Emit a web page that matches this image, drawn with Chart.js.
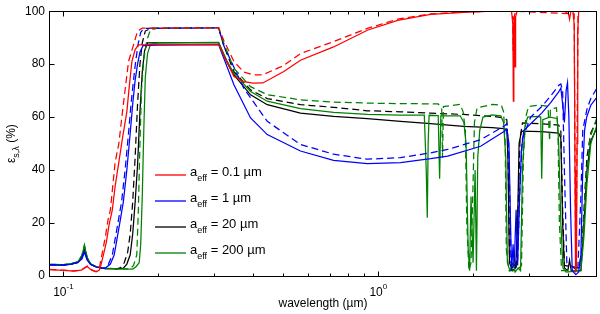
<!DOCTYPE html>
<html>
<head>
<meta charset="utf-8">
<script src="https://cdn.jsdelivr.net/npm/chart.js@4.4.0/dist/chart.umd.min.js"></script>
<style>
  body { margin: 0; background: #fff; }
  canvas { display: block; }
</style>
</head>
<body>
<canvas id="epsChart" width="600" height="314"></canvas>
<script>
// emissivity (%) vs wavelength (um)
const redSolidWl = [0.0903, 0.1, 0.108, 0.114, 0.119, 0.123, 0.127, 0.130, 0.1315, 0.134, 0.137, 0.1395, 0.143, 0.146, 0.150, 0.154, 0.159, 0.162, 0.165, 0.169, 0.173, 0.20, 0.311, 0.33, 0.348, 0.374, 0.40, 0.43, 0.501, 0.566, 0.721, 0.923, 1.152, 1.466, 1.867, 2.3, 2.65, 2.675, 2.685, 2.695, 2.71, 2.72, 2.73, 2.76, 3.9, 4.02, 4.05, 4.09, 4.15, 4.19, 4.215, 4.23, 4.26, 4.28, 4.3, 4.33, 4.95];
const redSolidEps = [2.4, 2.1, 1.8, 2.2, 3.6, 2.2, 1.6, 2.2, 4, 8, 13, 19, 25, 34, 43, 52, 62, 72, 81, 85.5, 87.3, 87.4, 87.5, 81, 75.3, 73.4, 72.8, 72.9, 77.2, 81.5, 86.5, 92.8, 96.5, 98.8, 99.6, 100, 100, 95, 66, 95, 98, 79, 98, 100, 100, 99, 97, 100, 100, 95, 40, 2, 3, 50, 92, 100, 100];

const redDashWl = [0.0903, 0.1, 0.108, 0.114, 0.119, 0.123, 0.127, 0.1295, 0.1305, 0.133, 0.136, 0.1385, 0.141, 0.146, 0.150, 0.154, 0.161, 0.167, 0.172, 0.178, 0.25, 0.311, 0.323, 0.348, 0.374, 0.40, 0.43, 0.501, 0.566, 0.721, 0.923, 1.152, 1.466, 1.867, 2.3, 2.67, 2.68, 2.69, 2.73, 4.19, 4.22, 4.24, 4.27, 4.31, 4.95];
const redDashEps = [2.5, 2.2, 1.9, 2.3, 3.8, 2.3, 1.7, 2.2, 4, 9, 15, 21, 25, 43, 50, 62, 81, 87.3, 92.5, 93.6, 93.7, 93.7, 89, 81, 77, 76, 76, 79.5, 84, 88.5, 93.5, 97, 99, 99.7, 100, 100, 85, 97, 100, 99, 30, 2, 40, 100, 100];

const blueSolidWl = [0.0903, 0.1, 0.106, 0.111, 0.1145, 0.1166, 0.119, 0.122, 0.127, 0.132, 0.136, 0.141, 0.145, 0.148, 0.151, 0.155, 0.159, 0.163, 0.166, 0.169, 0.172, 0.175, 0.179, 0.2, 0.311, 0.348, 0.393, 0.444, 0.566, 0.721, 0.923, 1.177, 1.466, 1.661, 2.114, 2.5, 2.56, 2.6, 2.63, 2.65, 2.68, 2.7, 2.74, 2.77, 2.81, 2.85, 2.9, 3.048, 3.304, 3.528, 3.74, 3.8, 3.85, 3.9, 3.95, 3.99, 4.03, 4.08, 4.13, 4.24, 4.33, 4.4, 4.46, 4.52, 4.59, 4.73, 4.95];
const blueSolidEps = [4.2, 4.1, 4.5, 5.0, 6.5, 9.0, 6.0, 4.3, 3.4, 3.1, 3.0, 4.5, 8, 14, 20, 28, 40, 54, 65, 74, 80, 84.5, 87, 87.2, 87.4, 72.2, 59.7, 53.4, 47.2, 43.7, 42.4, 42.8, 44.3, 45.3, 49, 54.5, 55.5, 50, 20, 2, 12, 3, 25, 4, 30, 48, 55, 57.5, 61.5, 65.5, 69.5, 71, 65, 58, 70, 73, 60, 25, 2, 0.5, 1.5, 8, 40, 55, 60, 64.5, 67.5];

const blueDashWl = [0.0903, 0.1, 0.106, 0.111, 0.1145, 0.1166, 0.119, 0.122, 0.127, 0.132, 0.136, 0.139, 0.143, 0.146, 0.149, 0.153, 0.157, 0.161, 0.164, 0.167, 0.170, 0.173, 0.176, 0.18, 0.311, 0.323, 0.374, 0.444, 0.566, 0.721, 0.923, 1.177, 1.466, 1.661, 2.114, 2.5, 2.56, 2.6, 2.64, 2.7, 2.77, 2.82, 2.87, 3.048, 3.304, 3.528, 3.74, 3.8, 3.85, 3.9, 3.97, 4.3, 4.4, 4.46, 4.6, 4.73, 4.95];
const blueDashEps = [4.3, 4.2, 4.6, 5.1, 6.8, 9.5, 6.2, 4.4, 3.5, 3.1, 3.0, 4.5, 8, 14, 20, 28, 40, 54, 65, 74, 82, 88, 92, 93.5, 93.7, 87, 70.9, 58.4, 49.7, 46, 44.1, 44.7, 46.5, 47.8, 51.5, 56.5, 57.5, 45, 5, 4, 6, 35, 52, 60, 64, 68, 72, 72.5, 70, 40, 5, 2, 30, 55, 63, 67, 71];

const blackSolidWl = [0.0903, 0.1, 0.106, 0.111, 0.1145, 0.1166, 0.119, 0.122, 0.127, 0.132, 0.136, 0.150, 0.155, 0.159, 0.163, 0.166, 0.169, 0.172, 0.175, 0.178, 0.181, 0.185, 0.25, 0.311, 0.33, 0.348, 0.393, 0.444, 0.566, 0.721, 0.923, 1.177, 1.466, 1.867, 2.3, 2.5, 2.56, 2.58, 2.61, 2.67, 2.73, 2.77, 2.8, 2.85, 3.3, 3.74, 3.8, 3.85, 3.9, 4.0, 4.05, 4.1, 4.4, 4.5, 4.6, 4.73, 4.95];
const blackSolidEps = [4.2, 4.1, 4.5, 5.1, 7.0, 10.5, 6.5, 4.4, 3.4, 3.0, 2.8, 2.7, 3.0, 4.5, 8, 16, 28, 42, 62, 77, 85, 88, 88.1, 88.1, 81, 75.9, 68.4, 64.7, 61.5, 60.3, 59.4, 58.4, 57.5, 56.5, 56, 55.7, 55.3, 45, 5, 2, 3, 20, 50, 54.7, 54.5, 54, 52, 20, 3, 2, 6, 2, 2, 20, 40, 51, 56];

const blackDashWl = [0.0903, 0.1, 0.106, 0.111, 0.1145, 0.1166, 0.119, 0.122, 0.127, 0.132, 0.136, 0.148, 0.152, 0.156, 0.16, 0.163, 0.166, 0.169, 0.172, 0.175, 0.178, 0.182, 0.19, 0.311, 0.323, 0.348, 0.393, 0.444, 0.566, 0.721, 0.923, 1.177, 1.466, 1.867, 2.3, 2.5, 2.56, 2.58, 2.61, 2.67, 2.74, 2.78, 2.82, 2.87, 3.3, 3.74, 3.8, 3.85, 3.9, 4.4, 4.5, 4.6, 4.73, 4.95];
const blackDashEps = [4.3, 4.2, 4.6, 5.2, 7.2, 10.8, 6.6, 4.5, 3.5, 3.0, 2.8, 2.7, 3.2, 5, 9, 16, 28, 45, 65, 80, 88, 92.5, 93.6, 93.7, 87, 77.2, 70.3, 67, 64.7, 63.7, 62.4, 62, 61.5, 61, 60.3, 59.7, 59, 50, 8, 3, 3, 25, 52, 57.8, 57.5, 57, 55, 25, 4, 3, 25, 45, 54, 59];

const greenSolidWl = [0.0903, 0.1, 0.106, 0.111, 0.1145, 0.1166, 0.119, 0.122, 0.127, 0.132, 0.15, 0.166, 0.17, 0.174, 0.176, 0.178, 0.18, 0.182, 0.185, 0.189, 0.2, 0.311, 0.33, 0.348, 0.393, 0.444, 0.566, 0.721, 0.923, 1.177, 1.4, 1.42, 1.431, 1.44, 1.45, 1.55, 1.566, 1.58, 1.82, 1.87, 1.9, 1.93, 1.95, 1.97, 2.0, 2.03, 2.05, 2.07, 2.1, 2.15, 2.3, 2.45, 2.5, 2.54, 2.57, 2.62, 2.68, 2.72, 2.78, 2.83, 2.87, 2.92, 2.98, 3.2, 3.28, 3.304, 3.33, 3.5, 3.7, 3.74, 3.8, 3.86, 3.95, 4.4, 4.5, 4.6, 4.73, 4.95];
const greenSolidEps = [4.4, 4.3, 4.7, 5.3, 7.8, 11.5, 7.0, 4.6, 3.5, 3.0, 2.7, 2.6, 3.5, 5, 12, 30, 55, 75, 84, 87.5, 88, 88.2, 81.5, 76.5, 69.7, 66, 63.2, 61.8, 61, 60.8, 60.8, 40, 22, 50, 60.7, 60.6, 36.7, 60.5, 60.5, 58, 50, 10, 2, 30, 5, 40, 2, 45, 55, 60, 60.8, 60.5, 58, 45, 5, 2, 5, 1.5, 3, 2, 40, 56, 60, 60.3, 60, 36.7, 59, 60, 59.5, 50, 20, 3, 1.5, 2, 15, 35, 50, 57];

const greenDashWl = [0.0903, 0.1, 0.106, 0.111, 0.1145, 0.1166, 0.119, 0.122, 0.127, 0.132, 0.15, 0.163, 0.167, 0.171, 0.173, 0.175, 0.177, 0.18, 0.184, 0.189, 0.2, 0.311, 0.323, 0.348, 0.393, 0.444, 0.566, 0.721, 0.923, 1.177, 1.55, 1.59, 1.6, 1.61, 1.82, 1.86, 1.89, 1.91, 1.94, 1.97, 2.0, 2.02, 2.06, 2.3, 2.46, 2.5, 2.53, 2.55, 2.6, 2.75, 2.85, 2.89, 2.94, 3.0, 3.2, 3.35, 3.46, 3.5, 3.52, 3.68, 3.72, 3.76, 3.82, 4.3, 4.45, 4.55, 4.7, 4.95];
const greenDashEps = [4.4, 4.3, 4.7, 5.3, 7.8, 11.8, 7.0, 4.6, 3.5, 3.0, 2.7, 2.7, 4, 8, 25, 50, 70, 82, 89, 93, 93.6, 93.8, 88, 78.4, 71.5, 68.5, 66.5, 65.7, 65.3, 65.1, 65, 63, 44.7, 64, 64.8, 62, 55, 20, 2, 5, 35, 58, 63.5, 64.8, 64.5, 62, 50, 10, 2, 2, 4, 45, 60, 64, 64.5, 64.3, 64, 51, 63, 63.5, 55, 20, 2, 2, 10, 35, 52, 60];

const grainSizes = ["0.1", "1", "20", "200"];   // a_eff in um
const yTicks = [0, 20, 40, 60, 80, 100];
const xMinorTicks = [0.1, 0.2, 0.3, 0.4, 0.5, 0.6, 0.7, 0.8, 0.9, 1, 2, 3, 4];
const xLabelTicks = [0.1, 1];
const xLabelExps = ["-1", "0"];

const FONT = "'Liberation Sans', Arial, Helvetica, sans-serif";
const RED = "#ff0000", BLUE = "#0000ff", BLACK = "#000000", GREEN = "#008000";
const legendColors = [RED, BLUE, BLACK, GREEN];

function pts(wl, eps) {
  return wl.map((w, i) => ({ x: w, y: eps[i] }));
}

function series(wl, eps, color, dashed) {
  return {
    data: pts(wl, eps),
    borderColor: color,
    borderWidth: 1.25,
    borderDash: dashed ? [7, 4] : [],
    pointRadius: 0,
    tension: 0,
    fill: false
  };
}

// first dataset ends up on top
const datasets = [
  series(redSolidWl, redSolidEps, RED, false),
  series(redDashWl, redDashEps, RED, true),
  series(blueSolidWl, blueSolidEps, BLUE, false),
  series(blueDashWl, blueDashEps, BLUE, true),
  series(greenSolidWl, greenSolidEps, GREEN, false),
  series(greenDashWl, greenDashEps, GREEN, true),
  series(blackSolidWl, blackSolidEps, BLACK, false),
  series(blackDashWl, blackDashEps, BLACK, true)
];

// draw text pieces one after the other, with sub/superscripts
function drawPieces(ctx, pieces, x, y) {
  let cx = x;
  pieces.forEach(p => {
    ctx.font = p.size + "px " + FONT;
    ctx.fillText(p.text, cx, y + (p.dy || 0));
    cx += ctx.measureText(p.text).width;
  });
}
function piecesWidth(ctx, pieces) {
  let w = 0;
  pieces.forEach(p => {
    ctx.font = p.size + "px " + FONT;
    w += ctx.measureText(p.text).width;
  });
  return w;
}

const framePlugin = {
  id: "frame",
  afterDraw(chart) {
    const ctx = chart.ctx;
    const a = chart.chartArea;
    const xs = chart.scales.x, ys = chart.scales.y;
    const L = Math.round(a.left) + 0.5, R = Math.round(a.right) - 0.5;
    const T = Math.round(a.top) + 0.5, B = Math.round(a.bottom) + 0.5;
    ctx.save();
    ctx.strokeStyle = "#000";
    ctx.fillStyle = "#000";
    ctx.lineWidth = 1;
    ctx.setLineDash([]);
    ctx.strokeRect(L, T, R - L, B - T);

    // inward tick marks
    ctx.beginPath();
    yTicks.forEach(v => {
      const py = Math.round(ys.getPixelForValue(v)) + 0.5;
      ctx.moveTo(L, py); ctx.lineTo(L + 5, py);
      ctx.moveTo(R, py); ctx.lineTo(R - 5, py);
    });
    xMinorTicks.forEach(v => {
      const px = Math.round(xs.getPixelForValue(v)) + 0.5;
      const len = xLabelTicks.includes(v) ? 5 : 3;
      ctx.moveTo(px, B); ctx.lineTo(px, B - len);
      ctx.moveTo(px, T); ctx.lineTo(px, T + len);
    });
    ctx.stroke();

    // x tick labels 10^-1, 10^0
    ctx.textAlign = "left";
    ctx.textBaseline = "alphabetic";
    xLabelTicks.forEach((v, i) => {
      const pieces = [{ text: "10", size: 12 }, { text: xLabelExps[i], size: 8, dy: -7 }];
      const w = piecesWidth(ctx, pieces);
      drawPieces(ctx, pieces, xs.getPixelForValue(v) - w / 2, 296);
    });

    // x title
    ctx.font = "12px " + FONT;
    ctx.textAlign = "center";
    ctx.fillText("wavelength (\u00b5m)", (a.left + a.right) / 2, 307);

    // y title, rotated
    ctx.save();
    ctx.translate(15, (a.top + a.bottom) / 2);
    ctx.rotate(-Math.PI / 2);
    ctx.textAlign = "left";
    const yPieces = [{ text: "\u03b5", size: 12 }, { text: "s,\u03bb", size: 9, dy: 4 }, { text: " (%)", size: 12 }];
    drawPieces(ctx, yPieces, -piecesWidth(ctx, yPieces) / 2, 0);
    ctx.restore();

    // legend
    ctx.lineWidth = 1.3;
    grainSizes.forEach((s, i) => {
      const y = 175 + 26 * i;
      ctx.strokeStyle = legendColors[i];
      ctx.beginPath();
      ctx.moveTo(155, y);
      ctx.lineTo(186, y);
      ctx.stroke();
      ctx.textAlign = "left";
      drawPieces(ctx, [
        { text: "a", size: 13 },
        { text: "eff", size: 9, dy: 5 },
        { text: " = " + s + " \u00b5m", size: 13 }
      ], 190, y + 1);
    });
    ctx.restore();
  }
};

new Chart(document.getElementById("epsChart"), {
  type: "line",
  data: { datasets: datasets },
  options: {
    responsive: false,
    animation: false,
    events: [],
    layout: { padding: { left: 0, right: 3, top: 9, bottom: 0 } },
    plugins: { legend: { display: false }, tooltip: { enabled: false } },
    scales: {
      x: {
        type: "logarithmic",
        min: 0.09,
        max: 4.95,
        grid: { display: false, drawTicks: false },
        border: { display: false },
        ticks: { display: false },
        afterFit(s) { s.height = 38; }
      },
      y: {
        min: 0,
        max: 100,
        grid: { display: false, drawTicks: false },
        border: { display: false },
        ticks: {
          stepSize: 20,
          color: "#000",
          padding: 4,
          font: { family: FONT, size: 12 }
        },
        afterFit(s) { s.width = 49; }
      }
    }
  },
  plugins: [framePlugin]
});
</script>
</body>
</html>
